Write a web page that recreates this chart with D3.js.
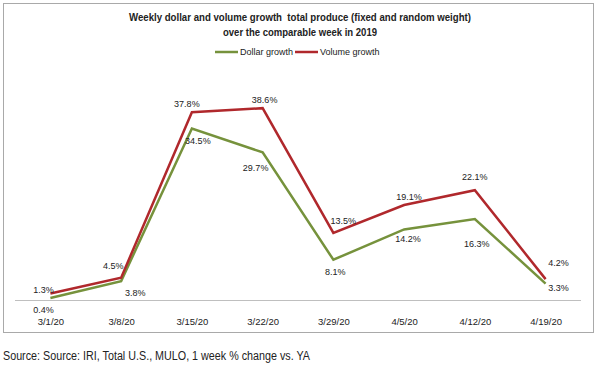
<!DOCTYPE html>
<html><head><meta charset="utf-8">
<script src="https://cdn.jsdelivr.net/npm/d3@7"></script>
<style>body{margin:0;background:#fff}svg{display:block}text{font-family:"Liberation Sans",Arial,sans-serif;fill:#222}</style>
</head><body>
<svg id="c" width="600" height="371"></svg>
<script>
const categories = ["3/1/20","3/8/20","3/15/20","3/22/20","3/29/20","4/5/20","4/12/20","4/19/20"];
const dollarGrowth = [0.4, 3.8, 34.5, 29.7, 8.1, 14.2, 16.3, 3.3];
const volumeGrowth = [1.3, 4.5, 37.8, 38.6, 13.5, 19.1, 22.1, 4.2];
const seriesNames = ["Dollar growth", "Volume growth"];
const titleLines = ["Weekly dollar and volume growth  total produce (fixed and random weight)", "over the comparable week in 2019"];
const sourceText = "Source: Source: IRI, Total U.S., MULO, 1 week % change vs. YA";

// label offsets (layout only)
const volOff = [[-7,-4],[-8,-12],[-5,-8],[2,-8],[10,-12],[5,-8],[0,-13],[13,-16]];
const dolOff = [[-7,12],[14,12],[6,12.5],[-7,16],[2,12],[4,10],[2,25],[13,4]];

const svg = d3.select("#c");
const colors = {d:"#76923c", v:"#b0282c"};

// frame
svg.append("rect").attr("x",3.5).attr("y",3.5).attr("width",590).attr("height",329)
  .attr("fill","none").attr("stroke","#a9a9a9").attr("stroke-width",1);

const x = d3.scalePoint().domain(categories).range([50.4, 545.6]);
const y = d3.scaleLinear().domain([0,40]).range([300, 101.2]);

// axis
const ax = svg.append("g").attr("transform","translate(0,300.5)")
  .call(d3.axisBottom(x).tickSize(0).tickPadding(18));
ax.select(".domain").remove();
svg.append("line").attr("x1",15).attr("x2",581).attr("y1",300.5).attr("y2",300.5).attr("stroke","#bfbfbf");
ax.selectAll("text").style("font-family","'Liberation Sans',Arial,sans-serif").style("font-size","9.5px").attr("fill","#222");

const line = d3.line().x((d,i)=>x(categories[i])).y(d=>y(d));
svg.append("path").datum(dollarGrowth).attr("d",line).attr("fill","none").attr("stroke",colors.d).attr("stroke-width",2.5);
svg.append("path").datum(volumeGrowth).attr("d",line).attr("fill","none").attr("stroke",colors.v).attr("stroke-width",2.5);

function labels(vals, off){
  svg.append("g").selectAll("text").data(vals).join("text")
    .attr("x",(d,i)=>x(categories[i])+off[i][0])
    .attr("y",(d,i)=>y(d)+off[i][1])
    .attr("text-anchor","middle").attr("dominant-baseline","central")
    .style("font-size","9px")
    .text(d=>d.toFixed(1)+"%");
}
labels(volumeGrowth, volOff);
labels(dollarGrowth, dolOff);

// title
svg.append("g").selectAll("text").data(titleLines).join("text")
  .attr("x",300).attr("y",(d,i)=>17+i*15).attr("text-anchor","middle").attr("dominant-baseline","central")
  .style("font-size","10px").style("font-weight","bold").style("white-space","pre").attr("fill","#111")
  .attr("textLength",(d,i)=>i===0?342:154).attr("lengthAdjust","spacingAndGlyphs")
  .text(d=>d);

// legend
const lg = [{n:seriesNames[0],c:colors.d,x:215},{n:seriesNames[1],c:colors.v,x:295}];
lg.forEach(l=>{
  svg.append("line").attr("x1",l.x).attr("x2",l.x+23).attr("y1",52).attr("y2",52).attr("stroke",l.c).attr("stroke-width",2.5);
  svg.append("text").attr("x",l.x+25).attr("y",52).attr("dominant-baseline","central").style("font-size","9px").text(l.n);
});

// source
svg.append("text").attr("x",3).attr("y",356).attr("dominant-baseline","central")
  .style("font-size","12.5px").attr("fill","#111").attr("textLength",307).attr("lengthAdjust","spacingAndGlyphs").text(sourceText);
</script>
</body></html>
